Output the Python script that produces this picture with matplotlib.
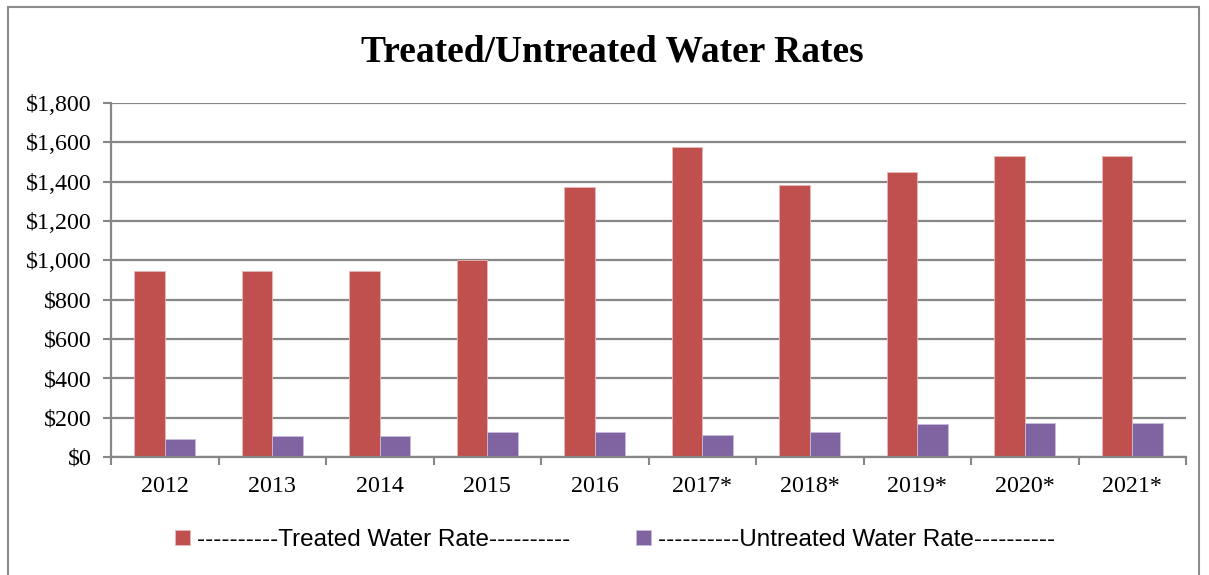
import matplotlib
matplotlib.use("Agg")
import matplotlib.pyplot as plt
from matplotlib.patches import Rectangle
from matplotlib.ticker import FixedLocator, FuncFormatter
import numpy as np

years = ["2012", "2013", "2014", "2015", "2016", "2017*", "2018*", "2019*", "2020*", "2021*"]
treated = [945, 945, 945, 1000, 1373, 1577, 1385, 1451, 1532, 1532]
untreated = [92, 108, 108, 129, 129, 113, 129, 168, 174, 174]

RED = "#C0504D"
PURPLE = "#8064A2"
GRID = "#878787"

fig = plt.figure(figsize=(12.09, 5.75), dpi=100)
ax = fig.add_axes([111/1209, 1-457/575, (1186-111)/1209, (457-103)/575])

x = np.arange(len(years))
w = 0.286
b1 = ax.bar(x - w/2, treated, w, color=RED, edgecolor="#E8B8B7", linewidth=0.6, zorder=3,
            label="----------Treated Water Rate----------")
b2 = ax.bar(x + w/2, untreated, w, color=PURPLE, edgecolor="#C9BBDD", linewidth=0.6, zorder=3,
            label="----------Untreated Water Rate----------")

ax.set_xlim(-0.5, len(years) - 0.5)
ax.set_ylim(0, 1800)
ax.yaxis.set_major_locator(FixedLocator(range(0, 1801, 200)))
ax.yaxis.set_major_formatter(FuncFormatter(lambda v, p: f"${int(v):,}"))
ax.set_xticks(x)
ax.set_xticklabels(years)
ax.set_xticks(np.arange(-0.5, len(years), 1.0), minor=True)
ax.tick_params(axis="x", which="major", length=0, pad=14)
ax.tick_params(axis="x", which="minor", length=6, width=1.5, color=GRID, direction="out")
ax.tick_params(axis="y", length=6, width=1.5, color=GRID, direction="out", pad=8)

ax.grid(axis="y", color=GRID, linewidth=1.6, zorder=0)
for s in ["top", "right"]:
    ax.spines[s].set_visible(False)
for s in ["left", "bottom"]:
    ax.spines[s].set_color(GRID)
    ax.spines[s].set_linewidth(1.6)
    ax.spines[s].set_zorder(4)

for lab in ax.get_xticklabels() + ax.get_yticklabels():
    lab.set_fontfamily("Liberation Serif")
    lab.set_fontsize(17.3)
    lab.set_color("black")

fig.text(612/1209, 1-62/575, "Treated/Untreated Water Rates", ha="center", va="baseline",
         fontfamily="Liberation Serif", fontweight="bold", fontsize=27)

leg = fig.legend(handles=[b1, b2], loc="center", bbox_to_anchor=(615/1209, 1-540/575),
                 ncol=2, frameon=False, handlelength=0.62, handleheight=0.62,
                 handletextpad=0.3, columnspacing=2.7,
                 prop={"family": "Liberation Sans", "size": 17.5})

fig.patches.append(Rectangle((8/1209, -0.05), (1199-8)/1209, 1.05 - 7/575,
                             transform=fig.transFigure, fill=False,
                             edgecolor="#8C8C8C", linewidth=1.5))

fig.savefig("out.png", dpi=100)
